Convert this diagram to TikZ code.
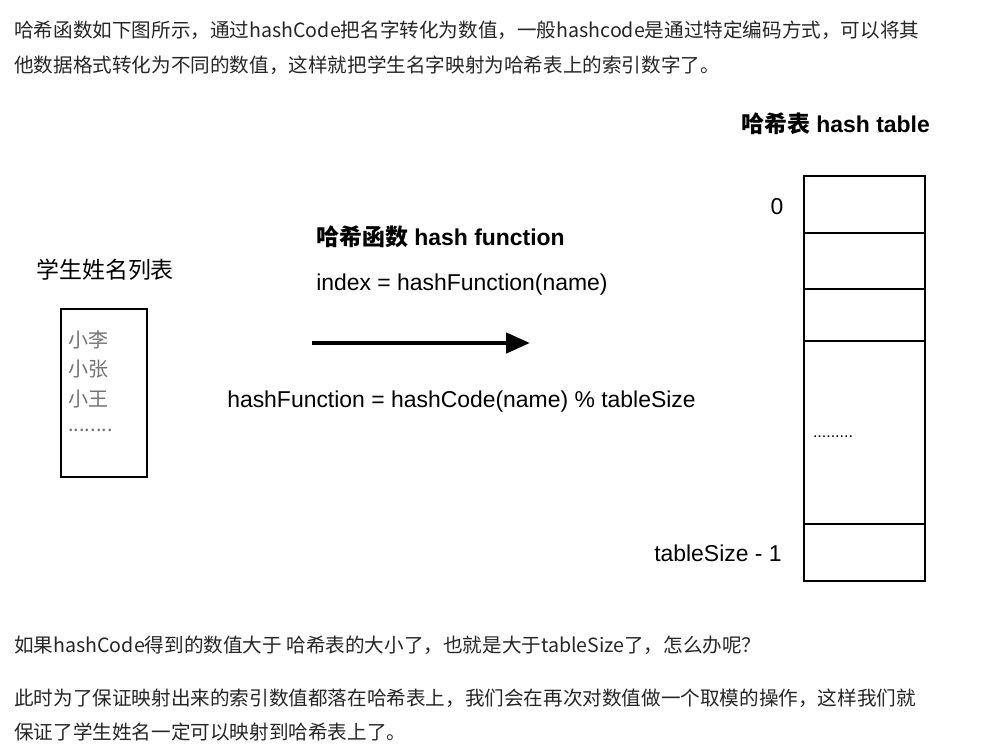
\documentclass[tikz,border=0pt]{standalone}
\usepackage{fontspec}
\usetikzlibrary{arrows.meta}
\setmainfont{Noto Sans CJK SC}
\newfontfamily\lib{Liberation Sans}
\newfontfamily\cjk{Noto Sans CJK SC}
\begin{document}
\begin{tikzpicture}[x=0.75pt,y=-0.75pt,
  para/.style={anchor=west,inner sep=0,text=black!85,font=\fontsize{14.7}{16}\selectfont},
  dia/.style={anchor=west,inner sep=0,font=\lib\fontsize{17.2}{20}\selectfont},
  diab/.style={dia,font=\lib\bfseries\fontsize{17.2}{20}\selectfont},
  item/.style={anchor=west,inner sep=0,text=black!55,font=\cjk\fontsize{15}{18}\selectfont},
  cell/.style={draw,line width=1.4pt}]
\useasboundingbox[fill=white] (0,0) rectangle (982,743);
\node[para] (p1) at (14,30) {哈希函数如下图所示，通过hashCode把名字转化为数值，一般hashcode是通过特定编码方式，可以将其};
\node[para] (p2) at (14,65) {他数据格式转化为不同的数值，这样就把学生名字映射为哈希表上的索引数字了。};
\node[diab] (ht) at (741,124) {{\cjk\bfseries 哈希表} hash table};
\foreach \a/\b [count=\i] in {176/233,233/289,289/341,341/524,524/581}
  \draw[cell] (804,\a) rectangle (925,\b) node[pos=0.5] (c\i) {};
\node[dia,anchor=center] (z) at (777,207) {0};
\node[dia,anchor=center,font=\lib\fontsize{12}{12}\selectfont] (dots) at (833,437) {.........};
\node[dia,anchor=east] (ts) at (782,553) {tableSize - 1};
\node[diab] (hf) at (316,237) {{\cjk\bfseries 哈希函数} hash function};
\node[dia] (idx) at (316,285) {index = hashFunction(name)};
\coordinate (a1) at (312,343); \coordinate (a2) at (530,343);
\draw[line width=3.5pt,-{Triangle[length=18pt,width=15pt]}] (a1) -- (a2);
\node[dia] (f) at (227,402) {hashFunction = hashCode(name) \% tableSize};
\node[dia,font=\cjk\fontsize{17.2}{20}\selectfont] (lt) at (36,270) {学生姓名列表};
\draw[cell] (61,309) rectangle (147,477) node[pos=0.5] (lb) {};
\node[item] (i1) at (68,340) {小李};
\node[item] (i2) at (68,369) {小张};
\node[item] (i3) at (68,399) {小王};
\node[item] (i4) at (68,430) {........};
\node[para] (p3) at (14,645) {如果hashCode得到的数值大于 哈希表的大小了，也就是大于tableSize了，怎么办呢？};
\node[para] (p4) at (14,698) {此时为了保证映射出来的索引数值都落在哈希表上，我们会在再次对数值做一个取模的操作，这样我们就};
\node[para] (p5) at (14,732) {保证了学生姓名一定可以映射到哈希表上了。};
\end{tikzpicture}
\end{document}
